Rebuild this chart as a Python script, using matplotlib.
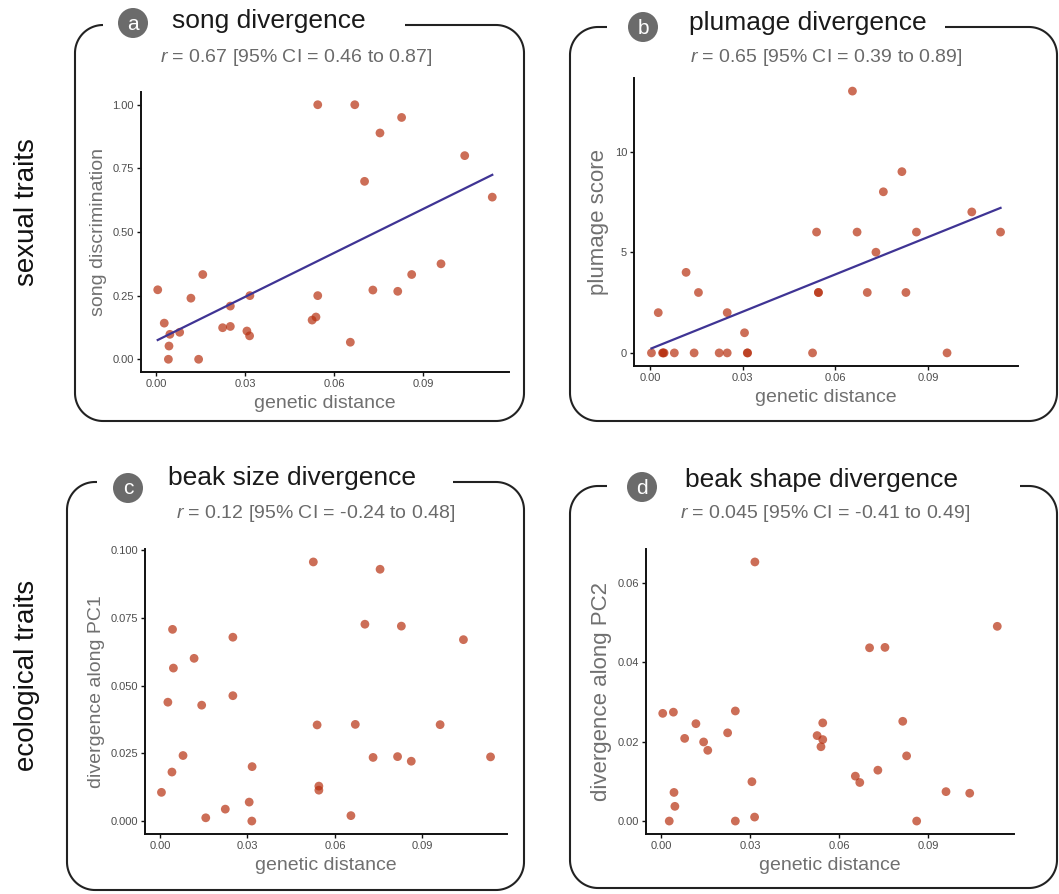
import numpy as np
import matplotlib
matplotlib.use("Agg")
import matplotlib.pyplot as plt
from matplotlib.patches import Circle

plt.rcParams['font.family'] = ['Liberation Sans', 'DejaVu Sans']
plt.rcParams['mathtext.fontset'] = 'custom'
plt.rcParams['mathtext.rm'] = 'Liberation Sans'
plt.rcParams['mathtext.it'] = 'Liberation Sans:italic'

# genetic distance of each species pair (same for all four panels)
gen_dist = [0.0005, 0.0027, 0.0041, 0.0043, 0.0046, 0.0079, 0.0117, 0.0143, 0.0157, 0.0224,
            0.0250, 0.0250, 0.0306, 0.0315, 0.0316, 0.0526, 0.0539, 0.0545, 0.0545, 0.0655,
            0.0670, 0.0703, 0.0731, 0.0755, 0.0815, 0.0828, 0.0862, 0.0961, 0.1041, 0.1134]

song_disc = [0.273, 0.142, 0.0, 0.052, 0.098, 0.106, 0.240, 0.0, 0.333, 0.124,
             0.209, 0.129, 0.111, 0.092, 0.250, 0.154, 0.166, 0.250, 1.0, 0.067,
             1.0, 0.699, 0.272, 0.889, 0.267, 0.950, 0.333, 0.375, 0.800, 0.637]

plumage = [0, 2, 0, 0, 0, 0, 4, 0, 3, 0,
           0, 2, 1, 0, 0, 0, 6, 3, 3, 13,
           6, 3, 5, 8, 9, 3, 6, 0, 7, 6]

beak_pc1 = [0.0106, 0.0439, 0.0181, 0.0708, 0.0565, 0.0242, 0.0601, 0.0428, 0.0012, 0.0044,
            0.0679, 0.0463, 0.0070, 0.0000, 0.0201, 0.0957, 0.0355, 0.0129, 0.0114, 0.0020,
            0.0357, 0.0727, 0.0235, 0.0930, 0.0238, 0.0720, 0.0221, 0.0356, 0.0670, 0.0237]

beak_pc2 = [0.0271, 0.0, 0.0274, 0.0072, 0.0037, 0.0208, 0.0245, 0.0199, 0.0178, 0.0222,
            0.0277, 0.0, 0.0099, 0.0010, 0.0652, 0.0215, 0.0187, 0.0247, 0.0205, 0.0113,
            0.0097, 0.0436, 0.0128, 0.0437, 0.0251, 0.0164, 0.0, 0.0074, 0.0070, 0.0490]

W, H = 1059, 894
PT_COL = '#b73010'
LINE_COL = '#3f3494'

# layout in pixels: axes (l, r, t, b), frame (L, R, T, B), gap in frame top, badge, title, subtitle
panels = [
    dict(letter='a', title='song divergence', r='0.67 [95% CI = 0.46 to 0.87]',
         ylab='song discrimination', y=song_disc, yt=[0, 0.25, 0.5, 0.75, 1.0], fmt='%.2f',
         fit=True, ax=(141, 509, 92, 372), box=(75, 524, 25, 421), gap=(103, 405),
         circ=(133, 23), tpos=(172, 21), spos=(296, 58), ysize=14),
    dict(letter='b', title='plumage divergence', r='0.65 [95% CI = 0.39 to 0.89]',
         ylab='plumage score', y=plumage, yt=[0, 5, 10], fmt='%d',
         fit=True, ax=(634, 1018, 78, 366), box=(570, 1057, 27, 421), gap=(607, 945),
         circ=(643, 27), tpos=(689, 23), spos=(826, 58), ysize=16),
    dict(letter='c', title='beak size divergence', r='0.12 [95% CI = -0.24 to 0.48]',
         ylab='divergence along PC1', y=beak_pc1, yt=[0, 0.025, 0.05, 0.075, 0.1], fmt='%.3f',
         fit=False, ax=(145, 507, 549, 834), box=(67, 524, 482, 890), gap=(97, 453),
         circ=(128, 488), tpos=(168, 478), spos=(316, 514), ysize=14),
    dict(letter='d', title='beak shape divergence', r='0.045 [95% CI = -0.41 to 0.49]',
         ylab='divergence along PC2', y=beak_pc2, yt=[0, 0.02, 0.04, 0.06], fmt='%.2f',
         fit=False, ax=(646, 1014, 549, 834), box=(570, 1057, 486, 888), gap=(607, 1020),
         circ=(642, 487), tpos=(685, 480), spos=(825, 514), ysize=16),
]


def box_line(L, R, T, B, gl, gr, rad=28):
    def arc(cx, cy, a0, a1):
        t = np.radians(np.linspace(a0, a1, 30))
        return list(cx + rad * np.cos(t)), list(cy - rad * np.sin(t))
    xs, ys = [gl], [T]
    for cx, cy, a0, a1 in [(L + rad, T + rad, 90, 180), (L + rad, B - rad, 180, 270),
                           (R - rad, B - rad, 270, 360), (R - rad, T + rad, 0, 90)]:
        ax_, ay_ = arc(cx, cy, a0, a1)
        xs += ax_
        ys += ay_
    xs.append(gr)
    ys.append(T)
    return xs, ys


fig = plt.figure(figsize=(W / 100, H / 100), dpi=100)

gx = np.array(gen_dist)
for p in panels:
    l, r, t, b = p['ax']
    ax = fig.add_axes([l / W, 1 - b / H, (r - l) / W, (b - t) / H])
    y = np.array(p['y'], dtype=float)
    ax.scatter(gx, y, s=40, color=PT_COL, alpha=0.7, edgecolors='none', zorder=3)
    if p['fit']:
        k, c = np.polyfit(gx, y, 1)
        xx = np.array([gx.min(), gx.max()])
        ax.plot(xx, k * xx + c, color=LINE_COL, lw=1.6, zorder=4)
    ax.set_xticks([0, 0.03, 0.06, 0.09])
    ax.set_xticklabels(['0.00', '0.03', '0.06', '0.09'])
    ax.set_yticks(p['yt'])
    ax.set_yticklabels([p['fmt'] % v for v in p['yt']])
    ax.margins(0.05)
    for s in ['top', 'right']:
        ax.spines[s].set_visible(False)
    for s in ['left', 'bottom']:
        ax.spines[s].set_linewidth(1.4)
        ax.spines[s].set_color('#111111')
    ax.tick_params(labelsize=8, length=3, width=1, colors='#111111', labelcolor='#4d4d4d', pad=2)
    ax.set_xlabel('genetic distance', fontsize=14, color='#707070', labelpad=4)
    ax.set_ylabel(p['ylab'], fontsize=p['ysize'], color='#707070', labelpad=4)

# overlay for frames, badges and titles
ov = fig.add_axes([0, 0, 1, 1], zorder=10)
ov.set_xlim(0, W)
ov.set_ylim(H, 0)
ov.axis('off')
ov.patch.set_visible(False)

for p in panels:
    L, R, T, B = p['box']
    xs, ys = box_line(L, R, T, B, p['gap'][0], p['gap'][1])
    ov.plot(xs, ys, color='#222222', lw=1.5, solid_capstyle='butt')
    ov.add_patch(Circle(p['circ'], 15, color='#6b6b6b', lw=0))
    ov.text(p['circ'][0], p['circ'][1] + 1, p['letter'], color='white', fontsize=15,
            ha='center', va='center')
    ov.text(p['tpos'][0], p['tpos'][1], p['title'], color='#1a1a1a', fontsize=19,
            ha='left', va='center')
    ov.text(p['spos'][0], p['spos'][1], r'$\it{r}$ = ' + p['r'], color='#6a6a6a',
            fontsize=14, ha='center', va='center')

ov.text(27, 212, 'sexual traits', rotation=90, fontsize=20, color='#111111',
        ha='center', va='center')
ov.text(27, 675, 'ecological traits', rotation=90, fontsize=20, color='#111111',
        ha='center', va='center')

fig.savefig('out.png', dpi=100)
